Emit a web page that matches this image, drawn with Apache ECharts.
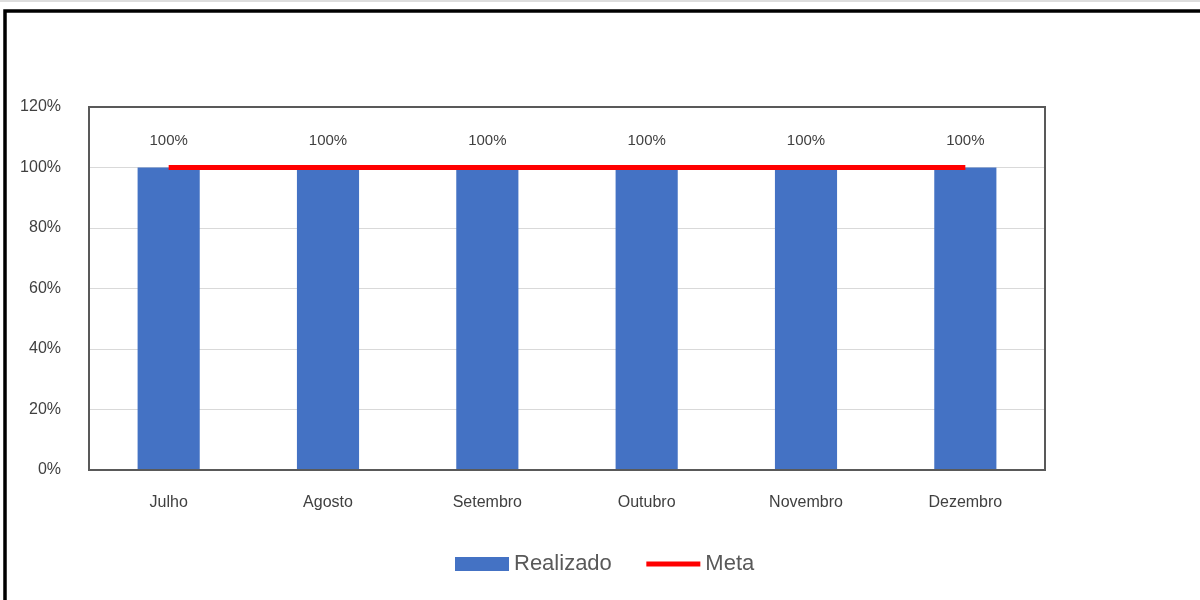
<!DOCTYPE html>
<html><head><meta charset="utf-8">
<script src="https://cdn.jsdelivr.net/npm/echarts@6/dist/echarts.min.js"></script>
<style>html,body{margin:0;padding:0;background:#fff}#c{width:1200px;height:600px}</style>
</head><body><div id="c"></div>
<script>
const categories = ['Julho','Agosto','Setembro','Outubro','Novembro','Dezembro'];
const realizado = [100,100,100,100,100,100];
const meta = [100,100,100,100,100,100];
const yTicks = [0,20,40,60,80,100,120];

const chart = echarts.init(document.getElementById('c'));
const font = 'Liberation Sans, Arial, sans-serif';
chart.setOption({
  animation:false,
  backgroundColor:'#fff',
  graphic:[
    {type:'rect',shape:{x:5,y:11,width:1205,height:600},style:{fill:'none',stroke:'#000',lineWidth:3.5},z:100},
    {type:'line',shape:{x1:0,y1:1,x2:1200,y2:1},style:{stroke:'#bbb',lineWidth:1}}
  ],
  grid:{left:89,right:155,top:107,bottom:130,show:true,borderColor:'#595959',borderWidth:2,backgroundColor:'transparent',z:3},
  legend:{
    bottom:20,left:450,itemGap:32,itemWidth:54,itemHeight:14,
    textStyle:{fontFamily:font,fontSize:22,color:'#595959'},
    data:[{name:'Realizado',icon:'rect'},{name:'Meta',itemStyle:{opacity:0},lineStyle:{width:5,color:'#ff0000'}}]
  },
  xAxis:{
    type:'category',data:categories,
    axisLine:{show:false},axisTick:{show:false},
    axisLabel:{fontFamily:font,fontSize:16,color:'#404040',margin:25}
  },
  yAxis:{
    type:'value',min:0,max:120,interval:20,
    axisLine:{show:false},axisTick:{show:false},
    splitLine:{showMinLine:false,showMaxLine:false,lineStyle:{color:'#d9d9d9',width:1}},
    axisLabel:{fontFamily:font,fontSize:16,color:'#404040',margin:28,formatter:v=>v+'%'}
  },
  series:[
    {name:'Realizado',type:'bar',data:realizado,barWidth:'39%',itemStyle:{color:'#4472C4'},
     label:{show:true,position:'top',distance:19,formatter:p=>p.value+'%',fontFamily:font,fontSize:15,color:'#404040'}},
    {name:'Meta',type:'line',data:meta,symbol:'none',lineStyle:{color:'#ff0000',width:5},itemStyle:{color:'#ff0000'},z:5}
  ]
});
</script></body></html>
